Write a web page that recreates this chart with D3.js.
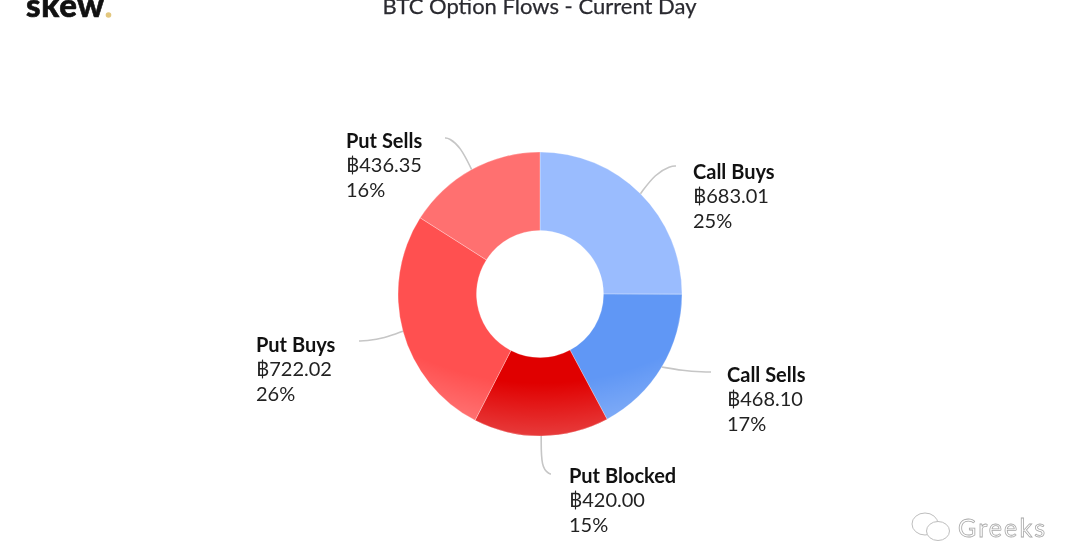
<!DOCTYPE html>
<html><head><meta charset="utf-8">
<script src="https://cdnjs.cloudflare.com/ajax/libs/d3/7.8.5/d3.min.js"></script>
<style>
html,body{margin:0;padding:0;background:#fff;overflow:hidden}
svg{display:block;font-family:Lato,"Noto Sans",sans-serif;filter:blur(.35px)}
</style></head><body><svg id="c" width="1080" height="543"></svg>
<script>
const categories=["Call Buys","Call Sells","Put Blocked","Put Buys","Put Sells"];
const btcValues=[683.01,468.10,420.00,722.02,436.35];
const valueLabels=["฿683.01","฿468.10","฿420.00","฿722.02","฿436.35"];
const percentLabels=["25%","17%","15%","26%","16%"];
const sliceColors=["#9abcfe","#6097f5","#e00000","#ff5050","#ff7070"];
const labelLeft=[693,727,569,256,346];
const labelTop=[178.6,381.6,482.6,351.6,147.6];
const titleText="BTC Option Flows - Current Day";

const svg=d3.select("#c");
const cx=540,cy=294,R=142,r=63.5;
const pie=d3.pie().sort(null).value(d=>d);
const arc=d3.arc().innerRadius(r).outerRadius(R);
const arcs=pie(btcValues);

const defs=svg.append("defs");
const grad=defs.append("radialGradient").attr("id","fade").attr("gradientUnits","userSpaceOnUse")
 .attr("cx",0).attr("cy",-200).attr("r",344);
grad.append("stop").attr("offset",0.84).attr("stop-color","#fff").attr("stop-opacity",0);
grad.append("stop").attr("offset",1).attr("stop-color","#fff").attr("stop-opacity",0.24);

const g=svg.append("g").attr("transform",`translate(${cx},${cy})`);
g.selectAll("path.s").data(arcs).join("path").attr("class","s")
 .attr("d",arc).attr("fill",(d,i)=>sliceColors[i]).attr("stroke","#fff").attr("stroke-opacity",.35).attr("stroke-width",.8);
g.append("path")
 .attr("d",d3.arc().innerRadius(r).outerRadius(R)({startAngle:0,endAngle:2*Math.PI}))
 .attr("fill","url(#fade)");

// connectors
const connectorEnds=[[676,166],[711,372],[551,474],[359,341],[445,138]];
const line=d3.line().curve(d3.curveBasis);
arcs.forEach((d,i)=>{
  const a=(d.startAngle+d.endAngle)/2;
  const p=[cx+R*Math.sin(a),cy-R*Math.cos(a)];
  const e=connectorEnds[i];
  const mid=i===2?[p[0]+0,e[1]-6]:[p[0]+(e[0]-p[0])*.42,p[1]+(e[1]-p[1])*.72];
  svg.append("path").attr("d",line([p,mid,[e[0]-(e[0]-p[0])*.15,e[1]],e]))
   .attr("fill","none").attr("stroke","#c6c6c6").attr("stroke-width",1.6);
});

const labels=svg.append("g");
categories.forEach((c,i)=>{
  const x=labelLeft[i],y=labelTop[i];
  labels.append("text").attr("x",x).attr("y",y).attr("font-size",20).attr("font-weight",700).attr("fill","#111").text(c);
  labels.append("text").attr("x",x).attr("y",y+24.5).attr("font-size",20).attr("fill","#222").text(valueLabels[i]);
  labels.append("text").attr("x",x).attr("y",y+49).attr("font-size",20).attr("fill","#222").text(percentLabels[i]);
});

svg.append("text").attr("x",539.5).attr("y",14).attr("text-anchor","middle").attr("font-size",22).attr("fill","#2a2a30").attr("stroke","#2a2a30").attr("stroke-width",.25).text(titleText);
svg.append("text").attr("x",26).attr("y",17).attr("font-size",33).attr("font-weight",900).attr("fill","#111").attr("stroke","#111").attr("stroke-width",.6).attr("textLength",78).text("skew");
svg.append("circle").attr("cx",108.5).attr("cy",15).attr("r",2.8).attr("fill","#e3c77e");

// watermark
const wm=svg.append("g").attr("fill","none").attr("stroke","#bdbdbd").attr("stroke-width",1);
wm.append("ellipse").attr("cx",925).attr("cy",524).attr("rx",13).attr("ry",11);
wm.append("ellipse").attr("cx",938).attr("cy",531).attr("rx",11.5).attr("ry",9.5).attr("fill","#fff");
svg.append("text").attr("x",958).attr("y",537).attr("font-size",25).attr("fill","#fff").attr("stroke","#a8a8a8").attr("stroke-width",.8).attr("textLength",87).text("Greeks");
</script></body></html>
